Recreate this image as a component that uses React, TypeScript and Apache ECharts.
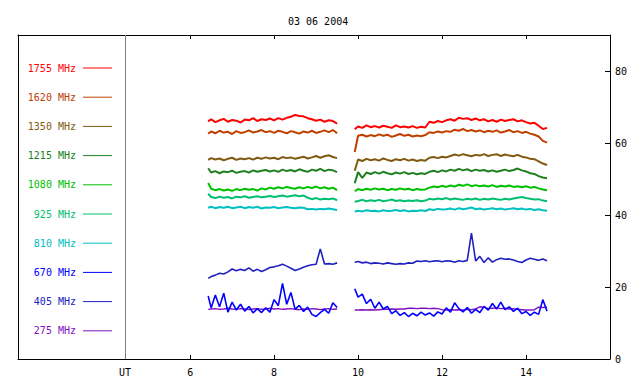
import React, { useEffect, useRef } from "react";
import * as echarts from "echarts";

const title = "03 06 2004";

// hours (UT); 9.7 is the gap between the two observing runs
const hours = [
  6.43, 6.5, 6.6, 6.7, 6.8, 6.9, 7.0, 7.1, 7.2, 7.3, 7.4, 7.5, 7.6, 7.7, 7.8, 7.9,
  8.0, 8.1, 8.2, 8.3, 8.4, 8.5, 8.6, 8.7, 8.8, 8.9, 9.0, 9.1, 9.2, 9.3, 9.4, 9.5,
  9.7,
  9.92, 10.0, 10.1, 10.2, 10.3, 10.4, 10.5, 10.6, 10.7, 10.8, 10.9, 11.0, 11.1, 11.2,
  11.3, 11.4, 11.5, 11.6, 11.7, 11.8, 11.9, 12.0, 12.1, 12.2, 12.3, 12.4, 12.5, 12.6,
  12.7, 12.8, 12.9, 13.0, 13.1, 13.2, 13.3, 13.4, 13.5, 13.6, 13.7, 13.8, 13.9, 14.0,
  14.1, 14.2, 14.3, 14.4, 14.5,
];

const f1755 = [
  66.0, 66.6, 65.8, 66.3, 66.7, 65.9, 66.4, 66.2, 65.7, 66.5, 66.3, 66.9, 66.1, 66.6, 66.4, 66.8,
  66.3, 66.9, 66.5, 67.0, 67.3, 67.8, 67.5, 67.4, 66.9, 66.6, 66.2, 66.5, 65.9, 66.3, 66.1, 65.4,
  null,
  63.8, 64.6, 64.2, 64.9, 64.4, 64.7, 64.3, 64.8, 64.5, 64.2, 64.9, 64.4, 64.6, 64.3,
  64.7, 64.2, 64.5, 64.3, 65.9, 65.6, 66.1, 65.8, 66.3, 66.6, 66.2, 67.0, 66.7, 66.9,
  66.4, 66.8, 66.3, 66.6, 66.0, 66.4, 65.9, 66.5, 66.1, 66.4, 66.6, 66.0, 66.3, 65.8,
  65.4, 65.6, 64.8, 63.9, 64.2,
];
const f1620 = [
  62.6, 63.2, 62.7, 63.4, 62.9, 63.1, 62.5, 63.3, 62.8, 63.0, 63.5, 62.9, 63.2, 63.6, 63.0, 63.3,
  62.8, 63.4, 63.1, 62.7, 63.3, 63.0, 62.6, 63.2, 62.9, 63.4, 62.8, 63.1, 63.5, 63.0, 63.6, 62.7,
  null,
  57.5, 62.0, 62.3, 61.8, 62.2, 61.9, 62.4, 62.0, 62.3, 61.7, 62.1, 62.5, 62.0, 62.3,
  61.8, 62.1, 61.9, 62.2, 63.0, 62.8, 63.2, 62.9, 63.3, 63.1, 63.7, 63.4, 63.9, 63.3,
  63.6, 63.2, 63.5, 63.0, 63.4, 63.1, 63.5, 62.9, 63.2, 63.6, 63.0, 63.3, 62.8, 63.1,
  62.6, 62.3, 61.8, 60.6, 60.1,
];
const f1350 = [
  55.3, 55.8, 55.4, 55.7, 55.2, 55.6, 55.9, 55.3, 55.7, 55.5, 55.8, 55.4, 55.9, 55.6, 56.0, 55.7,
  55.9, 55.5, 56.1, 55.8, 56.0, 55.6, 55.9, 56.2, 55.7, 56.0, 56.4, 55.9, 56.3, 56.6, 56.1, 55.8,
  null,
  52.3, 55.4, 55.0, 55.6, 55.2, 55.5, 55.1, 55.7, 55.3, 55.0, 55.5, 55.2, 55.6, 55.1,
  55.4, 55.0, 55.3, 55.1, 55.9, 56.1, 55.8, 56.2, 56.0, 56.4, 56.8, 56.5, 56.9, 56.6,
  56.3, 56.7, 56.5, 56.9, 56.4, 56.7, 56.9, 56.4, 56.8, 56.5, 56.3, 56.7, 56.2, 56.0,
  55.6, 55.5, 54.9, 54.3, 53.9,
];
const f1215 = [
  53.0, 51.8, 52.2, 51.6, 52.1, 51.9, 52.3, 51.7, 52.0, 52.2, 51.8, 52.4, 52.0, 52.3, 52.5, 52.1,
  52.4, 52.0, 52.6, 52.2, 52.5, 52.1, 52.7, 52.3, 52.0, 52.6, 52.3, 52.8, 52.2, 52.6, 52.4, 51.9,
  null,
  48.8, 51.9, 50.3, 51.8, 51.4, 51.9, 51.5, 52.0, 51.6, 51.3, 51.8, 51.5, 51.9, 51.4,
  51.7, 51.3, 51.6, 51.4, 52.0, 52.3, 51.9, 52.4, 52.1, 52.6, 52.3, 52.8, 52.4, 52.7,
  52.2, 52.6, 52.3, 52.5, 52.1, 52.4, 52.0, 52.3, 52.6, 52.2, 52.5, 52.9, 52.4, 52.1,
  51.6, 51.4, 50.8, 50.4, 50.2,
];
const f1080 = [
  48.9, 47.3, 46.9, 47.2, 46.8, 47.1, 46.7, 47.2, 46.9, 47.3, 47.0, 47.2, 46.8, 47.4, 47.1, 47.6,
  47.3, 47.7, 47.4, 47.8, 47.5, 47.3, 47.7, 47.4, 47.8, 47.5, 47.9, 47.4, 47.7, 47.3, 47.6, 46.9,
  null,
  46.6, 47.2, 46.9, 47.3, 47.0, 47.4, 47.1, 47.3, 46.9, 47.2, 47.0, 47.4, 47.1, 47.3,
  46.9, 47.2, 47.0, 47.1, 47.6, 47.9, 47.7, 48.1, 47.8, 48.2, 47.9, 48.4, 48.1, 48.5,
  48.0, 48.3, 48.0, 48.2, 47.9, 48.3, 47.8, 48.1, 47.9, 48.2, 47.8, 48.0, 47.7, 48.0,
  47.6, 47.8, 47.4, 47.1, 46.9,
];
const f925 = [
  45.9, 45.0, 44.7, 45.1, 44.8, 45.0, 44.6, 45.1, 44.9, 45.2, 44.8, 45.0, 45.2, 44.9, 45.1, 45.3,
  45.0, 45.2, 45.4, 45.1, 45.3, 45.5, 45.2, 45.4, 44.8, 44.4, 44.7, 44.3, 44.5, 44.4, 44.6, 44.1,
  null,
  43.7, 43.9, 44.2, 43.8, 44.1, 43.9, 44.2, 43.8, 44.0, 44.3, 43.9, 44.1, 43.8, 44.0,
  43.9, 44.1, 43.8, 44.0, 44.5, 44.3, 44.6, 44.4, 44.7, 44.3, 44.6, 44.4, 44.2, 44.5,
  44.3, 44.6, 44.2, 44.5, 44.3, 44.6, 44.4, 44.2, 44.5, 44.3, 44.6, 44.8, 45.0, 44.7,
  44.5, 44.3, 44.4, 44.0, 43.8,
];
const f810 = [
  42.0, 42.3, 41.9, 42.2, 42.0, 42.3, 41.9, 42.1, 42.3, 41.9, 42.2, 42.0, 42.3, 41.8, 42.1, 42.0,
  42.2, 41.9, 42.1, 42.2, 42.0, 41.9, 42.1, 42.0, 41.6, 41.7, 41.5, 41.7, 41.6, 41.8, 41.6, 41.4,
  null,
  41.0, 41.2, 41.0, 41.3, 41.1, 41.2, 41.0, 41.3, 41.1, 41.2, 41.4, 41.1, 41.3, 41.0,
  41.2, 41.1, 41.3, 41.1, 41.6, 41.4, 41.7, 41.5, 41.6, 41.8, 41.5, 41.9, 41.6, 41.8,
  42.1, 41.6, 41.8, 41.5, 41.7, 41.9, 41.6, 41.8, 41.5, 41.7, 41.9, 41.6, 41.8, 41.5,
  41.7, 41.4, 41.6, 41.3, 41.2,
];
const f670 = [
  17.5, 14.2, 17.8, 14.5, 18.3, 13.0, 15.8, 13.6, 15.2, 13.3, 14.6, 12.8, 14.0, 12.9, 14.2, 13.0,
  16.5, 14.8, 21.0, 15.2, 18.5, 13.8, 14.9, 13.2, 14.4, 12.4, 11.8, 12.9, 13.8, 12.7, 15.6, 14.3,
  null,
  19.5, 17.2, 18.0, 15.4, 16.6, 14.1, 15.8, 13.9, 14.6, 12.6, 13.4, 12.1, 12.9, 11.8,
  12.7, 12.0, 13.0, 12.2, 12.8, 11.9, 13.1, 12.5, 14.2, 13.0, 15.6, 14.0, 13.1, 14.3,
  12.7, 13.8, 12.9, 14.6, 13.6, 15.4, 13.9, 15.8, 13.7, 14.5, 13.2, 14.1, 12.6, 13.2,
  12.1, 13.0, 12.4, 16.5, 13.3,
];
const f405 = [
  22.4, 22.9, 23.3, 23.8, 23.6, 24.2, 25.0, 24.5, 24.9, 24.6, 25.3, 24.4, 24.9, 24.3, 24.8, 25.4,
  25.6, 25.9, 26.3, 25.8, 25.2, 24.6, 25.0, 25.5, 25.9, 26.2, 26.3, 30.6, 26.4, 26.5, 26.3, 26.7,
  null,
  26.9, 27.1, 26.7, 26.9, 26.5, 26.7, 26.6, 26.4, 26.7, 26.5, 26.3, 26.5, 26.4, 26.7,
  26.6, 27.2, 27.1, 27.3, 27.0, 27.2, 27.3, 27.0, 27.3, 27.2, 26.9, 27.3, 27.1, 27.4,
  35.0, 27.2, 28.5, 26.8, 28.1, 26.9, 27.6, 28.0, 27.7, 27.8, 27.5, 27.1, 26.8, 27.5,
  28.0, 27.7, 27.4, 27.8, 27.3,
];
const f275 = [
  13.8, 13.9, 14.0, 13.8, 13.9, 14.1, 13.9, 13.8, 14.0, 13.9, 13.7, 13.9, 14.0, 13.8, 13.9, 14.1,
  13.9, 14.0, 13.8, 13.9, 14.0, 13.8, 13.7, 13.9, 13.8, 14.0, 13.9, 13.7, 13.9, 14.0, 13.8, 13.9,
  null,
  13.6, 13.6, 13.7, 13.6, 13.7, 13.6, 13.7, 13.8, 13.8, 13.9, 13.8, 13.9, 13.9, 14.1,
  14.1, 14.0, 14.1, 14.1, 14.0, 14.1, 14.0, 13.7, 13.6, 13.7, 13.6, 13.7, 13.6, 13.8,
  13.7, 13.9, 14.5, 14.4, 14.0, 14.1, 14.2, 14.0, 14.1, 13.9, 14.0, 13.8, 13.7, 13.6,
  13.6, 13.7, 14.4, 14.3, 14.4,
];

const channelNames = ["1755 MHz", "1620 MHz", "1350 MHz", "1215 MHz", "1080 MHz", "925 MHz", "810 MHz", "670 MHz", "405 MHz", "275 MHz"];
const channelValues = [f1755, f1620, f1350, f1215, f1080, f925, f810, f670, f405, f275];
const channelColors = ["#ff0000", "#c04000", "#805a10", "#208020", "#00c000", "#00c070", "#00c0c0", "#0000ff", "#2020c0", "#8010c0"];
const channelWidths = [2, 2, 2, 2, 2, 2, 2, 1.6, 1.6, 1.4];

const xTicks = [6, 8, 10, 12, 14];
const utPosition = 4.45;
const FONT = "DejaVu Sans Mono";

export default function App() {
  const ref = useRef<HTMLDivElement>(null);
  useEffect(() => {
    document.body.style.margin = "0";
    if (!ref.current) return;
    const chart = echarts.init(ref.current, null, { renderer: "svg" });

    const series: any[] = channelNames.map((name, i) => ({
      name,
      type: "line",
      data: hours.map((h, k) => [h, channelValues[i][k]]),
      showSymbol: false,
      symbol: "none",
      connectNulls: false,
      lineStyle: { color: channelColors[i], width: channelWidths[i] },
      itemStyle: { color: channelColors[i] },
      z: name === "275 MHz" ? 1 : 2,
      xAxisIndex: 0,
      yAxisIndex: 0,
    }));
    series[0].markLine = {
      silent: true,
      symbol: "none",
      label: { show: false },
      lineStyle: { color: "#808080", width: 1, type: "solid" },
      data: [{ xAxis: utPosition }],
    };

    const graphics: any[] = [];
    channelNames.forEach((name, i) => {
      const y = 68 + i * 29.2;
      graphics.push({
        type: "text",
        x: 76,
        y,
        style: {
          text: name,
          fill: channelColors[i],
          font: `10px '${FONT}'`,
          textAlign: "right",
          textVerticalAlign: "middle",
        },
      });
      graphics.push({
        type: "line",
        shape: { x1: 83, y1: y, x2: 112, y2: y },
        style: { stroke: channelColors[i], lineWidth: 1 },
      });
    });

    chart.setOption({
      animation: false,
      backgroundColor: "#ffffff",
      title: {
        text: title,
        left: 283,
        top: 11,
        textStyle: { fontFamily: FONT, fontSize: 10, fontWeight: "normal", color: "#000" },
      },
      grid: { left: 18, right: 30, top: 35, bottom: 25 },
      xAxis: [
        {
          type: "value",
          position: "bottom",
          min: 1.9,
          max: 16,
          axisLine: { show: true, onZero: false, lineStyle: { color: "#000", width: 1 } },
          axisTick: { show: true, inside: true, length: 4, customValues: xTicks, lineStyle: { color: "#000" } },
          axisLabel: {
            show: true,
            customValues: [utPosition, ...xTicks],
            formatter: (v: number) => (Math.abs(v - utPosition) < 0.01 ? "UT" : String(v)),
            color: "#000",
            fontFamily: FONT,
            fontSize: 10,
            margin: 8,
          },
          splitLine: { show: false },
        },
        {
          type: "value",
          position: "top",
          min: 1.9,
          max: 16,
          axisLine: { show: true, onZero: false, lineStyle: { color: "#000", width: 1 } },
          axisTick: { show: true, inside: true, length: 4, customValues: xTicks, lineStyle: { color: "#000" } },
          axisLabel: { show: false },
          splitLine: { show: false },
        },
      ],
      yAxis: [
        {
          type: "value",
          position: "right",
          min: 0,
          max: 90,
          interval: 20,
          axisLine: { show: true, onZero: false, lineStyle: { color: "#000", width: 1 } },
          axisTick: { show: true, inside: true, length: 5, lineStyle: { color: "#000" } },
          axisLabel: { show: true, showMaxLabel: false, color: "#000", fontFamily: FONT, fontSize: 10, margin: 5 },
          splitLine: { show: false },
        },
        {
          type: "value",
          position: "left",
          min: 0,
          max: 90,
          axisLine: { show: true, onZero: false, lineStyle: { color: "#000", width: 1 } },
          axisTick: { show: false },
          axisLabel: { show: false },
          splitLine: { show: false },
        },
      ],
      graphic: graphics,
      series,
    });
    return () => chart.dispose();
  }, []);
  return <div ref={ref} style={{ width: 640, height: 384 }} />;
}
